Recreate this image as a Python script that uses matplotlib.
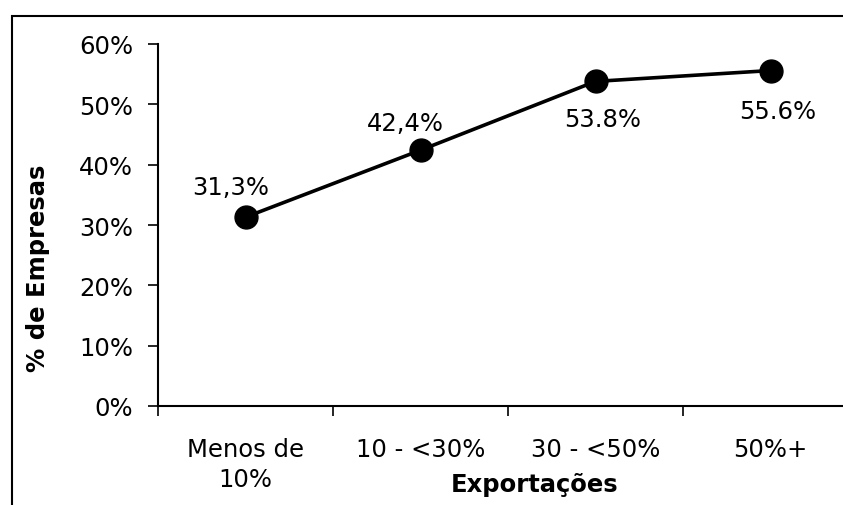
import matplotlib
matplotlib.use("Agg")
import matplotlib.pyplot as plt
from matplotlib.patches import Rectangle
from matplotlib.ticker import FixedLocator, PercentFormatter

categories = ["Menos de\n10%", "10 - <30%", "30 - <50%", "50%+"]
values = [31.3, 42.4, 53.8, 55.6]
value_labels = ["31,3%", "42,4%", "53.8%", "55.6%"]
yticks = [0, 10, 20, 30, 40, 50, 60]

plt.rcParams["font.family"] = ["DejaVu Sans"]
FS = 17.5

W, H = 843, 506
fig = plt.figure(figsize=(W / 100, H / 100), dpi=100)

# outer chart frame, running off the right and bottom edges
fig.patches.append(Rectangle((12 / W, -0.05), 1.1, (H - 17) / H + 0.05,
                             transform=fig.transFigure, fill=False,
                             edgecolor="black", linewidth=1.5, clip_on=False))

ax_left, ax_right = 158, 858
ax_top, ax_bottom = 45, 407
ax = fig.add_axes([ax_left / W, 1 - ax_bottom / H,
                   (ax_right - ax_left) / W, (ax_bottom - ax_top) / H])
ax.patch.set_alpha(0)

x = list(range(len(categories)))
ax.plot(x, values, color="black", linewidth=2.6, marker="o",
        markersize=16.5, markerfacecolor="black", markeredgecolor="black",
        zorder=3)

offsets = [(-15, 30), (-15, 27), (7, -38), (7, -40)]
for xi, v, lab, (dx, dy) in zip(x, values, value_labels, offsets):
    ax.annotate(lab, (xi, v), xytext=(dx, dy), textcoords="offset pixels",
                ha="center", va="center", fontsize=FS)

ax.set_xlim(-0.5, len(categories) - 0.5)
ax.set_ylim(0, 60)
ax.yaxis.set_major_locator(FixedLocator(yticks))
ax.yaxis.set_major_formatter(PercentFormatter(decimals=0))
ax.xaxis.set_major_locator(FixedLocator([i + 0.5 for i in range(-1, len(categories))]))
ax.xaxis.set_ticklabels([])
ax.xaxis.set_minor_locator(FixedLocator(x))
ax.xaxis.set_minor_formatter(plt.FixedFormatter(categories))
ax.tick_params(axis="x", which="minor", length=0, pad=22, labelsize=FS)
ax.tick_params(axis="x", which="major", length=7, width=1.2, direction="out")
ax.tick_params(axis="y", length=7, width=1.2, direction="out", labelsize=FS, pad=11)
for t in ax.xaxis.get_minor_ticks():
    t.label1.set_linespacing(1.35)

for side in ("top", "right"):
    ax.spines[side].set_visible(False)
for side in ("left", "bottom"):
    ax.spines[side].set_linewidth(1.5)

ax.set_xlabel("Exportações", fontsize=FS, fontweight="bold")
ax.xaxis.set_label_coords((535 - ax_left) / (ax_right - ax_left),
                          -(485 - ax_bottom) / (ax_bottom - ax_top))
ax.xaxis.label.set_va("center")
ax.set_ylabel("% de Empresas", fontsize=FS, fontweight="bold")
ax.yaxis.set_label_coords(-(ax_left - 38) / (ax_right - ax_left),
                          (ax_bottom - 268) / (ax_bottom - ax_top))
ax.yaxis.label.set_va("center")

fig.savefig("out.png", dpi=100)
